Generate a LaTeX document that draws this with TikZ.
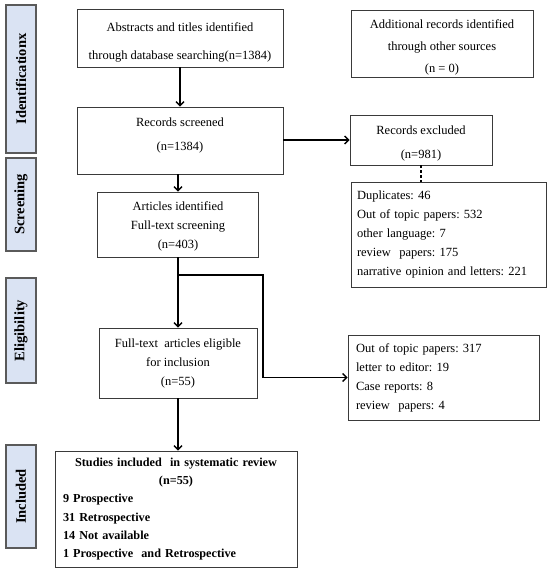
\documentclass[tikz,border=0pt]{standalone}
\usepackage{fontspec}
\setmainfont{Liberation Serif}
\usetikzlibrary{arrows.meta}
\definecolor{lblfill}{HTML}{DAE3F3}
\definecolor{lblborder}{HTML}{5A5A5A}
\definecolor{boxborder}{HTML}{3A3A3A}
\newcommand{\boxtext}[3]{\raisebox{#1}[0pt][0pt]{\fontsize{12.5}{#2}\selectfont\begin{tabular}{@{}c@{}}#3\end{tabular}}}
\frenchspacing
\tikzset{
  box/.style={draw=boxborder, line width=0.9pt, inner sep=0pt, align=center,
    font=\fontsize{12.5}{20}\selectfont},
  listbox/.style={draw=boxborder, line width=0.9pt, inner sep=0pt, align=left,
    font=\fontsize{12.5}{19}\selectfont},
  sidelabel/.style={draw=lblborder, fill=lblfill, line width=1.1pt, inner sep=0pt,
    rotate=90, font=\bfseries\fontsize{14.5}{16}\selectfont},
  arr/.style={line width=1.4pt, -{Straight Barb[length=4pt,width=8pt,line width=1.4pt]}},
  ln/.style={line width=1.4pt},
}
\begin{document}
\begin{tikzpicture}[x=1pt,y=-1pt]
\useasboundingbox (0,0) rectangle (550,576);
% side labels
\node[sidelabel, minimum width=148, minimum height=30] (lid) at (21,79) {Identificationx};
\node[sidelabel, minimum width=93, minimum height=30] (lsc) at (21,204.5) {Screening};
\node[sidelabel, minimum width=105, minimum height=30] (lel) at (21,330.5) {Eligibility};
\node[sidelabel, minimum width=103, minimum height=30] (lin) at (21,496.5) {Included};
% boxes
\node[box, minimum width=206, minimum height=58] (abs) at (180,38)
  {\boxtext{-4.5pt}{28pt}{Abstracts and titles identified\\through database searching(n=1384)}};
\node[box, minimum width=182, minimum height=67] (add) at (442,43.5)
  {\boxtext{-6pt}{22pt}{Additional records identified\\through other sources\\(n = 0)}};
\node[box, minimum width=206, minimum height=67] (scr) at (180,140.5)
  {\boxtext{4pt}{24pt}{Records screened\\(n=1384)}};
\node[box, minimum width=142, minimum height=50] (exc) at (421,140)
  {\boxtext{-4.5pt}{24pt}{Records excluded\\(n=981)}};
\node[listbox, minimum width=195, minimum height=105, text width=183] (l1) at (448.5,234.5)
  {Duplicates: 46\\Out of topic papers: 532\\other language: 7\\review\ \ papers: 175\\narrative opinion and letters: 221};
\node[box, minimum width=161, minimum height=65] (art) at (178,224.5)
  {\boxtext{-4pt}{19pt}{Articles identified\\Full-text screening\\(n=403)}};
\node[box, minimum width=158, minimum height=70] (ful) at (178,363)
  {\boxtext{-2.5pt}{19pt}{Full-text\ \ articles eligible\\for inclusion\\(n=55)}};
\node[listbox, minimum width=191, minimum height=85, text width=175] (l2) at (443.5,377.5)
  {Out of topic papers: 317\\letter to editor: 19\\Case reports: 8\\review\ \ papers: 4};
\node[listbox, minimum width=242, minimum height=116, text width=226,
  font=\bfseries\fontsize{12.2}{18.2}\selectfont] (stu) at (176,509)
  {\makebox[\linewidth]{Studies included\ \ in systematic review}\\
   \makebox[\linewidth]{(n=55)}\\
   9 Prospective\\31 Retrospective\\14 Not available\\1 Prospective\ \ and Retrospective};
% connectors
\draw[arr] (abs.south) -- (scr.north);
\draw[arr] (scr.east |- exc.west) -- (exc.west);
\draw[ln, dash pattern=on 3pt off 2pt] (exc.south) -- (exc.south |- l1.north);
\draw[arr] (art.north |- scr.south) -- (art.north);
\draw[arr] (art.south) -- (art.south |- ful.north);
\coordinate (bc) at (263,275);
\draw[ln] (art.south |- bc) -- (bc) -- (bc |- l2.west);
\draw[arr] (bc |- l2.west) -- (l2.west);
\draw[arr] (ful.south) -- (ful.south |- stu.north);
\end{tikzpicture}
\end{document}
